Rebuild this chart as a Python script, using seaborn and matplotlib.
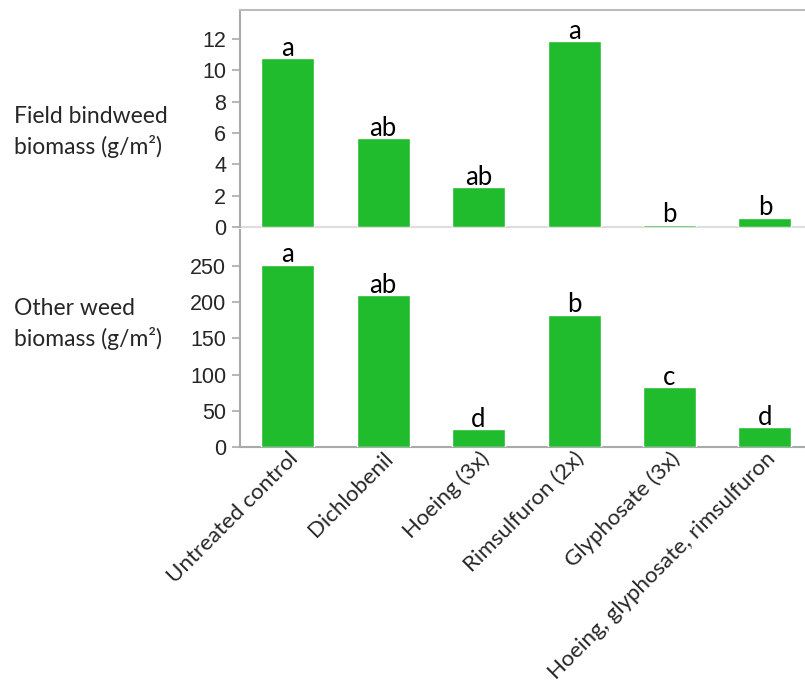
import matplotlib
matplotlib.use("Agg")
import matplotlib.pyplot as plt
import seaborn as sns
import pandas as pd

treatments = ["Untreated control", "Dichlobenil", "Hoeing (3x)", "Rimsulfuron (2x)",
              "Glyphosate (3x)", "Hoeing, glyphosate, rimsulfuron"]
bindweed = [10.8, 5.65, 2.55, 11.85, 0.15, 0.6]
other_weed = [252, 210, 25, 183, 83, 28]
bindweed_letters = ["a", "ab", "ab", "a", "b", "b"]
other_letters = ["a", "ab", "d", "b", "c", "d"]
bindweed_ticks = [0, 2, 4, 6, 8, 10, 12]
other_ticks = [0, 50, 100, 150, 200, 250]

sns.set_style("white")
BAR = "#21BB2E"
W, H = 805, 683
fig = plt.figure(figsize=(W / 100, H / 100), dpi=100)

def ax_rect(l, t, r, b):
    return [l / W, 1 - b / H, (r - l) / W, (b - t) / H]

ax1 = fig.add_axes(ax_rect(240, 10, 805, 227))
ax2 = fig.add_axes(ax_rect(240, 230, 805, 447))

df1 = pd.DataFrame({"t": treatments, "v": bindweed})
df2 = pd.DataFrame({"t": treatments, "v": other_weed})
sns.barplot(data=df1, x="t", y="v", color=BAR, saturation=1, width=0.555, ax=ax1)
sns.barplot(data=df2, x="t", y="v", color=BAR, saturation=1, width=0.555, ax=ax2)

tick_font = dict(family="Liberation Sans", size=15.5)
lab_font = ["Lato", "DejaVu Sans"]

for ax, vals, letters, ticks, ymax in [(ax1, bindweed, bindweed_letters, bindweed_ticks, 13.85),
                                       (ax2, other_weed, other_letters, other_ticks, 300)]:
    ax.set_xlim(-0.5, 5.42)
    ax.set_ylim(0, ymax)
    ax.set_yticks(ticks)
    ax.set_yticklabels([str(t) for t in ticks], **tick_font)
    ax.set_xlabel("")
    ax.set_ylabel("")
    ax.tick_params(axis="y", which="both", left=True, length=6, width=1.2, color="#aaaaaa", pad=4)
    ax.tick_params(axis="x", bottom=False, length=0)
    ax.spines["right"].set_visible(False)
    ax.spines["left"].set_color("#aaaaaa")
    ax.spines["left"].set_linewidth(1.5)
    for p in ax.patches:
        p.set_zorder(3)
    for i, (v, l) in enumerate(zip(vals, letters)):
        ax.annotate(l, xy=(i, v), xytext=(0, -2), textcoords="offset points",
                    ha="center", va="bottom", fontsize=18.5, family=lab_font, color="black")

ax1.spines["top"].set_color("#bbbbbb")
ax1.spines["top"].set_linewidth(1.5)
ax1.spines["bottom"].set_color("#dddddd")
ax1.spines["bottom"].set_linewidth(1.5)
ax1.spines["bottom"].set_zorder(1)
ax1.set_xticklabels([])
ax2.spines["top"].set_visible(False)
ax2.spines["bottom"].set_color("#aaaaaa")
ax2.spines["bottom"].set_linewidth(1.5)
ax2.set_xticks(range(len(treatments)))
ax2.set_xticklabels(treatments, rotation=45, ha="right", rotation_mode="anchor",
                    fontsize=16, family=lab_font)
ax2.tick_params(axis="x", pad=1)

fig.text(14 / W, 1 - 132 / H, "Field bindweed\nbiomass (g/m²)", ha="left", va="center",
         fontsize=16.5, family=lab_font, linespacing=1.45)
fig.text(14 / W, 1 - 324 / H, "Other weed\nbiomass (g/m²)", ha="left", va="center",
         fontsize=16.5, family=lab_font, linespacing=1.45)

fig.savefig("out.png", dpi=100)
